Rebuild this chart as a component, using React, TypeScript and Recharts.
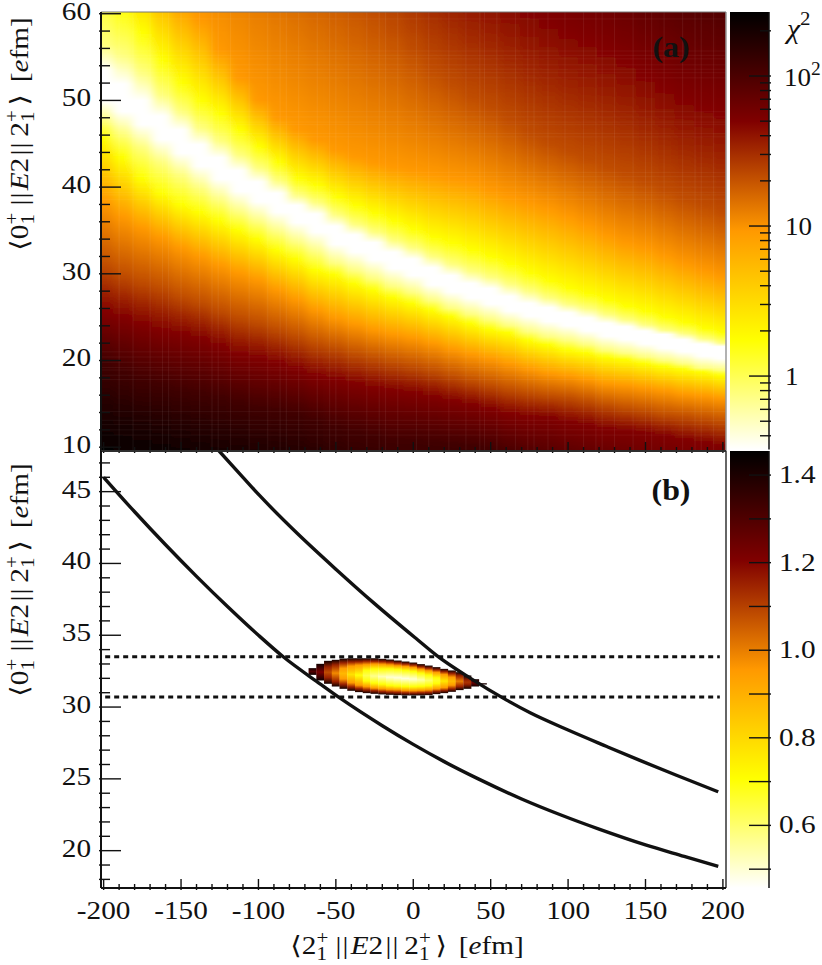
import React from "react";
import { ComposedChart, BarChart, Bar, Line, XAxis, YAxis, ReferenceLine, Label } from "recharts";

const W = 822;
const H = 965;
const _ = null;

// x scan columns of the chi2 map (efm)
const mapX = [-200, -187.5, -175, -162.5, -150, -137.5, -125, -112.5, -100, -87.5, -75, -62.5, -50, -37.5, -25, -12.5, 0, 12.5, 25, 37.5, 50, 62.5, 75, 87.5, 100, 112.5, 125, 137.5, 150, 162.5, 175, 187.5, 200];

// where chi2 crosses a level in each column (y in efm)
const chi115Top = [_, _, _, _, _, _, _, _, _, _, _, _, _, _, _, _, _, _, _, _, _, _, _, 77.2, 75.4, 73.7, 72.0, 70.2, 68.7, 67.4, 66.2, 65.3, 64.6];
const chi50Top = [_, _, _, _, _, _, _, _, _, _, _, _, _, _, 78.3, 75.2, 72.2, 69.6, 67.3, 65.3, 63.7, 62.2, 60.7, 59.5, 58.3, 57.4, 56.2, 54.9, 53.2, 51.8, 50.5, 49.6, 48.9];
const chi22Top = [_, _, _, _, _, 90.4, 85.8, 81.8, 77.7, 74.3, 70.8, 67.9, 65.0, 62.5, 60.2, 58.1, 55.8, 53.5, 51.8, 50.3, 49.1, 47.6, 46.0, 44.9, 44.0, 43.1, 42.2, 41.4, 40.5, 39.6, 38.6, 37.8, 37.0];
const chi9Top = [_, _, 67.9, 64.5, 61.6, 59.3, 55.8, 52.6, 50.0, 48.0, 46.6, 45.4, 44.3, 43.5, 42.8, 42.3, 41.9, 41.5, 41.0, 40.6, 39.7, 38.9, 38.2, 37.5, 36.6, 35.6, 34.5, 33.6, 33.0, 32.1, 31.2, 30.4, 29.7];
const chi17Top = [64.5, 61.0, 57.9, 54.7, 52.1, 50.0, 48.5, 46.6, 44.7, 42.9, 41.0, 40.2, 38.9, 37.9, 37.0, 36.1, 35.2, 34.2, 33.6, 32.8, 32.0, 31.1, 30.1, 29.2, 28.4, 27.7, 27.0, 26.3, 25.7, 25.0, 24.4, 23.7, 23.2];
const chi07Top = [56.4, 55.2, 53.2, 50.6, 48.7, 46.8, 45.3, 43.7, 42.2, 40.7, 39.1, 38.2, 36.8, 35.7, 34.8, 33.8, 33.0, 32.0, 31.1, 30.3, 29.6, 28.8, 28.0, 27.2, 26.5, 26.0, 25.3, 24.7, 24.1, 23.5, 23.1, 22.5, 22.0];
const chiMinTop = [53.5, 51.9, 50.0, 48.2, 46.6, 44.9, 43.4, 41.9, 40.6, 39.3, 37.9, 36.9, 35.5, 34.5, 33.6, 32.5, 31.7, 30.7, 29.8, 28.9, 28.3, 27.4, 26.6, 26.1, 25.5, 24.9, 24.3, 23.9, 23.4, 23.0, 22.4, 21.9, 21.6];
const chiMinBot = [50.0, 48.7, 47.2, 45.5, 43.9, 42.4, 40.9, 39.5, 38.3, 37.1, 35.9, 34.8, 33.4, 32.5, 31.6, 30.6, 29.8, 28.7, 27.9, 27.2, 26.5, 25.7, 25.1, 24.5, 24.0, 23.4, 22.8, 22.4, 21.9, 21.4, 21.0, 20.5, 20.2];
const chi07Bot = [47.7, 46.2, 44.6, 42.9, 41.4, 39.9, 38.5, 37.1, 36.0, 34.8, 33.6, 32.5, 31.2, 30.3, 29.4, 28.5, 27.8, 26.9, 26.0, 25.3, 24.7, 24.0, 23.3, 22.7, 22.3, 21.8, 21.2, 20.8, 20.4, 20.0, 19.6, 19.1, 18.9];
const chi17Bot = [45.7, 43.4, 41.0, 39.3, 38.0, 37.1, 36.1, 35.0, 34.0, 32.7, 31.7, 30.4, 29.9, 28.9, 28.1, 27.3, 26.6, 25.8, 25.1, 24.3, 23.6, 23.2, 22.3, 21.8, 21.2, 20.9, 20.4, 20.1, 19.7, 19.3, 19.0, 18.7, 18.3];
const chi9Bot = [38.3, 36.6, 35.3, 34.2, 33.0, 32.0, 31.0, 30.1, 29.3, 28.1, 27.0, 25.8, 24.9, 24.2, 23.5, 23.0, 22.6, 22.0, 21.3, 20.7, 20.2, 19.6, 19.0, 18.5, 18.2, 17.8, 17.3, 17.1, 16.8, 16.5, 16.1, 15.9, 15.6];
const chi22Bot = [31.0, 29.9, 29.1, 28.4, 27.4, 26.7, 25.8, 25.0, 24.4, 23.6, 22.8, 21.9, 21.4, 20.7, 20.2, 19.7, 19.3, 18.8, 18.2, 17.6, 17.1, 16.6, 16.2, 15.9, 15.7, 15.3, 14.8, 14.4, 14.1, 13.7, 13.5, 13.2, 12.9];
const chi50Bot = [25.5, 24.9, 24.1, 23.4, 23.0, 22.5, 21.7, 20.7, 20.3, 19.7, 19.0, 18.2, 17.8, 17.3, 16.8, 16.5, 16.2, 15.8, 15.3, 14.9, 14.4, 13.8, 13.5, 13.4, 12.9, 12.6, 12.1, 11.9, 11.6, 11.3, 10.8, 10.5, 10.1];
const chi115Bot = [19.7, 18.6, 17.7, 17.2, 16.6, 16.2, 15.7, 15.1, 14.5, 14.2, 13.8, 13.1, 12.3, 11.7, 11.2, 10.7, 10.7, 10.5, 10.3, 10.1, 9.7, 8.8, 8.0, 7.3, 6.6, 5.9, 5.1, 4.3, 3.3, 2.4, 1.4, 0.2, -0.9];
const chi267Bot = [8.8, 8.6, 8.2, 7.8, 7.4, 6.8, 6.2, 5.6, 5.1, 4.5, 3.9, 2.8, 1.6, 0.4, -0.7, -2.4, -2.4, -3.0, -3.6, -4.2, -5.3, _, _, _, _, _, _, _, _, _, _, _, _];

const mapContours: [number, (number | null)[]][] = [
  [115, chi115Top], [50, chi50Top], [21.5, chi22Top], [9.3, chi9Top], [1.74, chi17Top], [0.75, chi07Top], [0.324, chiMinTop],
  [0.324, chiMinBot], [0.75, chi07Bot], [1.74, chi17Bot], [9.3, chi9Bot], [21.5, chi22Bot], [50, chi50Bot], [115, chi115Bot], [267, chi267Bot],
];

// faint seams between the scan cells in panel (a)
const seamX = [-190, -181, -170, -162, -158, -150, -138, -130, -126, -118, -106, -94, -86, -82, -74, -62, -54, -50, -42, -30, -22, -18, -10, 2, 10, 23, 34, 43, 46, 54, 66, 74, 78, 87, 98, 110, 118, 122, 130, 142, 150, 154, 162, 174, 182, 186, 194];
const seamY = [59.4, 55.7, 55.2, 54.8, 54.1, 53.6, 53.2, 52.6, 48.7, 48.1, 47.5, 47.2, 46.2, 45.8, 41.7, 41.2, 40.6, 40.0, 39.4, 39.1, 38.6, 21.0, 20.4, 19.8, 19.2, 18.9, 18.3, 17.8, 14.1, 13.1, 12.6, 12.0, 11.4];

// panel (b): chi2 < limit island, per column
const blobX = [-65, -60, -55, -50, -45, -40, -35, -30, -25, -20, -15, -10, -5, 0, 5, 10, 15, 20, 25, 30, 35, 40, 45];
const blobEdgeTop = [32.71, 33.01, 33.22, 33.29, 33.38, 33.40, 33.40, 33.40, 33.40, 33.36, 33.31, 33.24, 33.17, 33.10, 32.99, 32.89, 32.78, 32.66, 32.55, 32.43, 32.20, 31.94, 31.66];
const blobEdgeBot = [32.24, 31.85, 31.62, 31.43, 31.27, 31.13, 31.04, 30.97, 30.92, 30.88, 30.85, 30.83, 30.81, 30.81, 30.81, 30.83, 30.90, 30.97, 31.06, 31.18, 31.27, 31.43, 31.57];
const blobMidY = [32.48, 32.43, 32.42, 32.36, 32.33, 32.27, 32.22, 32.19, 32.16, 32.12, 32.08, 32.04, 31.99, 31.95, 31.90, 31.86, 31.84, 31.81, 31.80, 31.80, 31.73, 31.69, 31.62];
const blobMidChi = [1.3, 1.22, 1.08, 0.98, 0.88, 0.78, 0.7, 0.63, 0.57, 0.53, 0.5, 0.49, 0.49, 0.5, 0.54, 0.6, 0.67, 0.76, 0.87, 1.0, 1.12, 1.25, 1.38];
const blobDarkTop = [_, _, 32.78, 32.94, 33.07, 33.13, 33.15, 33.19, 33.18, 33.16, 33.12, 33.06, 32.99, 32.92, 32.80, 32.70, 32.58, 32.46, 32.33, 32.17, 31.87, _, _];
const blobDarkBot = [_, _, 32.06, 31.78, 31.59, 31.41, 31.29, 31.19, 31.14, 31.08, 31.04, 31.02, 30.99, 30.98, 31.00, 31.02, 31.10, 31.16, 31.27, 31.43, 31.59, _, _];
const blobOrangeTop = [_, _, _, _, 32.70, 32.85, 32.92, 32.96, 33.00, 32.98, 32.94, 32.88, 32.83, 32.76, 32.64, 32.53, 32.42, 32.27, 32.08, _, _, _, _];
const blobOrangeBot = [_, _, _, _, 31.96, 31.69, 31.52, 31.42, 31.32, 31.26, 31.22, 31.20, 31.15, 31.14, 31.16, 31.19, 31.26, 31.35, 31.52, _, _, _, _];
const blobYellowTop = [_, _, _, _, _, _, _, 32.56, 32.65, 32.65, 32.66, 32.62, 32.55, 32.48, 32.36, 32.23, 32.03, _, _, _, _, _, _];
const blobYellowBot = [_, _, _, _, _, _, _, 31.82, 31.67, 31.59, 31.50, 31.46, 31.43, 31.42, 31.44, 31.49, 31.65, _, _, _, _, _, _];

// chi2 = 1 bands and the dotted limits in panel (b)
const lowerX = [-200, -180, -160, -140, -120, -100, -84, -60, -47, -20, 0, 20, 42, 70, 95, 120, 150, 175, 197];
const lowerY = [46.0, 43.6, 41.3, 39.1, 37.0, 35.0, 33.5, 31.6, 30.6, 28.7, 27.4, 26.2, 25.0, 23.6, 22.5, 21.5, 20.4, 19.6, 18.9];
const upperX = [-126, -110, -99, -75, -50, -25, 2.6, 15, 37, 60, 75.5, 100, 125, 146, 170, 197];
const upperY = [47.9, 46.0, 44.7, 42.1, 39.6, 37.2, 34.7, 33.6, 32.0, 30.5, 29.6, 28.4, 27.25, 26.3, 25.25, 24.1];
const dottedX = [-199, 198];
const dottedHigh = [33.5, 33.5];
const dottedLow = [30.7, 30.7];

// ticks
const xTicks = [-200, -190, -180, -170, -160, -150, -140, -130, -120, -110, -100, -90, -80, -70, -60, -50, -40, -30, -20, -10, 0, 10, 20, 30, 40, 50, 60, 70, 80, 90, 100, 110, 120, 130, 140, 150, 160, 170, 180, 190, 200];
const aYTicks = [60, 58, 56, 54, 52, 50, 48, 46, 44, 42, 40, 38, 36, 34, 32, 30, 28, 26, 24, 22, 20, 18, 16, 14, 12, 10];
const bYTicks = [47, 46, 45, 44, 43, 42, 41, 40, 39, 38, 37, 36, 35, 34, 33, 32, 31, 30, 29, 28, 27, 26, 25, 24, 23, 22, 21, 20, 19, 18];
const chiBarTicks = [0.4, 0.5, 0.6, 0.7, 0.8, 0.9, 1, 2, 3, 4, 5, 6, 7, 8, 9, 10, 20, 30, 40, 50, 60, 70, 80, 90, 100, 200];
const fitBarTicks = [0.5, 0.6, 0.7, 0.8, 0.9, 1.0, 1.1, 1.2, 1.3, 1.4];

const xDomain: [number, number] = [-201.7, 202];
const aDomain: [number, number] = [9.56, 60.2];
const bDomain: [number, number] = [17.4, 47.83];
const chiDomain: [number, number] = [0.324, 267];
const fitDomain: [number, number] = [0.457, 1.455];

const ramp = [
  { t: 0, c: [255, 255, 255] },
  { t: 0.25, c: [255, 255, 0] },
  { t: 0.5, c: [255, 153, 0] },
  { t: 0.75, c: [128, 0, 0] },
  { t: 1, c: [0, 0, 0] },
];

function rampColor(t: number) {
  const v = Math.min(1, Math.max(0, t));
  for (let i = 1; i < ramp.length; i++) {
    if (v <= ramp[i].t) {
      const a = ramp[i - 1];
      const b = ramp[i];
      const f = (v - a.t) / (b.t - a.t);
      const rgb = a.c.map((x, k) => Math.round(x + (b.c[k] - x) * f));
      return `rgb(${rgb.join(",")})`;
    }
  }
  return "rgb(0,0,0)";
}

const chiColor = (c: number) =>
  rampColor((Math.log10(c) - Math.log10(chiDomain[0])) / (Math.log10(chiDomain[1]) - Math.log10(chiDomain[0])));
const fitColor = (c: number) => rampColor((c - fitDomain[0]) / (fitDomain[1] - fitDomain[0]));

const FONT = "'Liberation Serif', 'DejaVu Serif', serif";

// the reference type is wider than Times, so text gets a small horizontal stretch
function TeX({ x, y, rotate = 0, size = 25, sx = 1.17, anchor = "middle", weight, children }: any) {
  return (
    <g transform={`translate(${x} ${y}) rotate(${rotate}) scale(${sx} 1)`}>
      <text fontFamily={FONT} fontSize={size} fontWeight={weight} textAnchor={anchor} fill="#111">
        {children}
      </text>
    </g>
  );
}

function Level({ base }: { base: string }) {
  return (
    <>
      <tspan>{base}</tspan>
      <tspan fontSize={18} dy={-10}>+</tspan>
      <tspan fontSize={18} dx={-10} dy={16}>1</tspan>
      <tspan dx={3} dy={-6}>{"\u200a"}</tspan>
    </>
  );
}

function Norm() {
  return (
    <>
      <tspan dx={2}>|</tspan>
      <tspan dx={1}>|</tspan>
    </>
  );
}

function Element({ left, right }: { left: string; right: string }) {
  return (
    <>
      <tspan>⟨</tspan>
      <Level base={left} />
      <Norm />
      <tspan dx={2} fontStyle="italic">E</tspan>
      <tspan>2</tspan>
      <Norm />
      <tspan dx={3}>{"\u200a"}</tspan>
      <Level base={right} />
      <tspan>⟩</tspan>
      <tspan dx={10}>[</tspan>
      <tspan fontStyle="italic">e</tspan>
      <tspan>fm]</tspan>
    </>
  );
}

const xTick = (labels: boolean) => (p: any) => {
  const v = p.payload.value;
  const major = v % 50 === 0;
  return (
    <g>
      <line x1={p.x} x2={p.x} y1={p.y} y2={p.y - (major ? 11 : 6)} stroke="#111" strokeWidth={1.4} />
      {labels && major ? <TeX x={p.x} y={p.y + 29}>{String(v)}</TeX> : null}
    </g>
  );
};

const yTick = (step: number) => (p: any) => {
  const v = p.payload.value;
  const major = v % step === 0;
  return (
    <g>
      <line x1={p.x} x2={p.x + (major ? 22 : 11)} y1={p.y} y2={p.y} stroke="#111" strokeWidth={1.4} />
      {major ? <TeX x={p.x - 8} y={p.y + 6} anchor="end">{String(v)}</TeX> : null}
    </g>
  );
};

const chiBarTick = (p: any) => {
  const v = p.payload.value;
  const major = v === 1 || v === 10 || v === 100;
  return (
    <g>
      <line x1={p.x} x2={p.x - (major ? 22 : 11)} y1={p.y} y2={p.y} stroke="#111" strokeWidth={1.4} />
      {v === 100 ? (
        <TeX x={p.x + 13} y={p.y + 10} anchor="start" sx={1.08}>
          <tspan>10</tspan>
          <tspan fontSize={18} dy={-11}>2</tspan>
        </TeX>
      ) : major ? (
        <TeX x={p.x + 14} y={p.y + 9} anchor="start" sx={1.08}>{String(v)}</TeX>
      ) : null}
    </g>
  );
};

const fitBarTick = (p: any) => {
  const v = p.payload.value;
  const label = Math.round(v * 10) % 2 === 0;
  return (
    <g>
      <line x1={p.x} x2={p.x - 22} y1={p.y} y2={p.y} stroke="#111" strokeWidth={1.4} />
      {label ? <TeX x={p.x + 8} y={p.y + 8} anchor="start">{v.toFixed(1)}</TeX> : null}
    </g>
  );
};

const layer: React.CSSProperties = { position: "absolute", left: 0, top: 0 };

const mapRows = mapX.map((x) => ({ x, span: aDomain }));
const blobRows = blobX.map((x, i) => ({ x, span: [blobEdgeBot[i], blobEdgeTop[i]] }));
const series = (xs: number[], ys: number[]) => xs.map((x, i) => ({ x, y: ys[i] }));

// gradient runs over a y range wider than the panel so off-panel contours still count
const gradTop = 100;
const gradBot = -10;

function MapGradient({ i }: { i: number }) {
  const span = aDomain[1] - aDomain[0];
  const stops = mapContours
    .filter(([, row]) => row[i] !== null)
    .map(([level, row]) => ({ level, v: row[i] as number }));
  return (
    <linearGradient
      id={`map-${i}`}
      x1="0"
      x2="0"
      y1={(aDomain[1] - gradTop) / span}
      y2={(aDomain[1] - gradBot) / span}
    >
      {stops.map((s, k) => (
        <stop key={k} offset={(gradTop - s.v) / (gradTop - gradBot)} stopColor={chiColor(s.level)} />
      ))}
    </linearGradient>
  );
}

function BlobGradient({ i }: { i: number }) {
  const top = blobEdgeTop[i];
  const bot = blobEdgeBot[i];
  const raw: [number, number | null][] = [
    [1.42, top],
    [1.15, blobDarkTop[i]],
    [0.95, blobOrangeTop[i]],
    [0.7, blobYellowTop[i]],
    [blobMidChi[i], blobMidY[i]],
    [0.7, blobYellowBot[i]],
    [0.95, blobOrangeBot[i]],
    [1.15, blobDarkBot[i]],
    [1.42, bot],
  ];
  const stops = raw.filter(([, v]) => v !== null) as [number, number][];
  return (
    <linearGradient id={`blob-${i}`} x1="0" x2="0" y1="0" y2="1">
      {stops.map(([c, v], k) => (
        <stop key={k} offset={(top - v) / (top - bot)} stopColor={fitColor(c)} />
      ))}
    </linearGradient>
  );
}

function BarRamp({ id }: { id: string }) {
  return (
    <linearGradient id={id} x1="0" x2="0" y1="1" y2="0">
      {ramp.map((s) => (
        <stop key={s.t} offset={s.t} stopColor={`rgb(${s.c.join(",")})`} />
      ))}
    </linearGradient>
  );
}

// a column as wide as the scan step, centred where the x scale puts the bar;
// end columns run past the frame so the soft filter has no fading edge
const column = (prefix: string, w: number, last: number) => (p: any) => {
  const left = p.index === 0 && last > 0 ? 30 : 0;
  const right = p.index === last && last > 0 ? 30 : 0;
  return (
    <rect
      x={p.x + p.width / 2 - w / 2 - left}
      y={p.y}
      width={w + left + right}
      height={p.height}
      fill={`url(#${prefix}-${p.index})`}
    />
  );
};

export default function App() {
  return (
    <div style={{ position: "absolute", left: 0, top: 0, width: W, height: H, background: "#fff", overflow: "hidden" }}>
      <style>{`.map-layer .recharts-bar-rectangles { filter: url(#soften); }`}</style>

      {/* panel (a) */}
      <div style={layer} className="map-layer">
        <ComposedChart width={W} height={H} data={mapRows} margin={{ top: 12, left: 41, right: 96, bottom: 513 }}>
          <defs>
            <filter id="soften" x="-10%" y="0" width="120%" height="100%">
              <feGaussianBlur stdDeviation="5 0" />
            </filter>
            {mapX.map((_x, i) => (
              <MapGradient key={i} i={i} />
            ))}
          </defs>
          <XAxis dataKey="x" type="number" domain={xDomain} allowDataOverflow ticks={xTicks} interval={0} height={1} tickSize={0} tickLine={false} axisLine={{ stroke: "#222", strokeWidth: 2 }} tick={xTick(false)} />
          <YAxis type="number" domain={aDomain} allowDataOverflow ticks={aYTicks} interval={0} width={60} tickSize={0} tickLine={false} axisLine={{ stroke: "#111", strokeWidth: 2 }} tick={yTick(10)}>
            <Label content={() => (
              <TeX x={28} y={134} rotate={-90}><Element left="0" right="2" /></TeX>
            )} />
            <Label content={() => (
              <TeX x={671} y={57} size={29} sx={1.1} weight="bold">(a)</TeX>
            )} />
          </YAxis>
          <Bar dataKey="span" barSize={18} shape={column("map", 20, mapX.length - 1)} isAnimationActive={false} />
          {seamX.map((x) => (
            <ReferenceLine key={x} x={x} stroke="#fff" strokeOpacity={0.07} strokeWidth={1} />
          ))}
          {seamY.map((y) => (
            <ReferenceLine key={y} y={y} stroke="#fff" strokeOpacity={0.05} strokeWidth={1} />
          ))}
          <ReferenceLine x={xDomain[1]} stroke="#999" strokeWidth={1.5} />
          <ReferenceLine y={aDomain[1]} stroke="#777" strokeWidth={1} />
        </ComposedChart>
      </div>

      {/* panel (b) */}
      <div style={layer}>
        <ComposedChart width={W} height={H} data={blobRows} margin={{ top: 451, left: 41, right: 96, bottom: 76 }}>
          <defs>
            {blobX.map((_x, i) => (
              <BlobGradient key={i} i={i} />
            ))}
          </defs>
          <XAxis dataKey="x" type="number" domain={xDomain} allowDataOverflow ticks={xTicks} interval={0} height={1} tickSize={0} tickLine={false} axisLine={{ stroke: "#111", strokeWidth: 2 }} tick={xTick(true)}>
            <Label content={() => (
              <TeX x={407} y={954}><Element left="2" right="2" /></TeX>
            )} />
          </XAxis>
          <YAxis type="number" domain={bDomain} allowDataOverflow ticks={bYTicks} interval={0} width={60} tickSize={0} tickLine={false} axisLine={{ stroke: "#111", strokeWidth: 2 }} tick={yTick(5)}>
            <Label content={() => (
              <TeX x={28} y={580} rotate={-90}><Element left="0" right="2" /></TeX>
            )} />
            <Label content={() => (
              <TeX x={671} y={500} size={29} sx={1.1} weight="bold">(b)</TeX>
            )} />
          </YAxis>
          <Bar dataKey="span" barSize={6} shape={column("blob", 8, 0)} isAnimationActive={false} />
          <Line data={series(lowerX, lowerY)} dataKey="y" type="monotone" dot={false} stroke="#111" strokeWidth={3.4} isAnimationActive={false} />
          <Line data={series(upperX, upperY)} dataKey="y" type="monotone" dot={false} stroke="#111" strokeWidth={3.4} isAnimationActive={false} />
          <Line data={series(dottedX, dottedHigh)} dataKey="y" dot={false} stroke="#111" strokeWidth={3} strokeDasharray="5 4" isAnimationActive={false} />
          <Line data={series(dottedX, dottedLow)} dataKey="y" dot={false} stroke="#111" strokeWidth={3} strokeDasharray="5 4" isAnimationActive={false} />
          <ReferenceLine x={xDomain[1]} stroke="#333" strokeWidth={1.5} />
          <ReferenceLine y={bDomain[1]} stroke="#333" strokeWidth={1.5} />
        </ComposedChart>
      </div>

      {/* colour bar (a) */}
      <div style={layer}>
        <BarChart width={W} height={H} data={[{ name: "chi", span: chiDomain }]} barCategoryGap={0} margin={{ top: 12, left: 730, right: 0, bottom: 515.5 }}>
          <defs>
            <BarRamp id="chi-ramp" />
          </defs>
          <XAxis dataKey="name" hide />
          <YAxis orientation="right" scale="log" type="number" domain={chiDomain} allowDataOverflow ticks={chiBarTicks} interval={0} width={53} tickSize={0} tickLine={false} axisLine={{ stroke: "#111", strokeWidth: 1.5 }} tick={chiBarTick}>
            <Label content={() => (
              <TeX x={787} y={38} size={27} sx={1.1} anchor="start">
                <tspan fontStyle="italic">χ</tspan>
                <tspan fontSize={19} dy={-13}>2</tspan>
              </TeX>
            )} />
          </YAxis>
          <Bar dataKey="span" fill="url(#chi-ramp)" isAnimationActive={false} />
        </BarChart>
      </div>

      {/* colour bar (b) */}
      <div style={layer}>
        <BarChart width={W} height={H} data={[{ name: "fit", span: fitDomain }]} barCategoryGap={0} margin={{ top: 451, left: 730, right: 0, bottom: 77 }}>
          <defs>
            <BarRamp id="fit-ramp" />
          </defs>
          <XAxis dataKey="name" hide />
          <YAxis orientation="right" type="number" domain={fitDomain} allowDataOverflow ticks={fitBarTicks} interval={0} width={53} tickSize={0} tickLine={false} axisLine={{ stroke: "#111", strokeWidth: 1.5 }} tick={fitBarTick} />
          <Bar dataKey="span" fill="url(#fit-ramp)" isAnimationActive={false} />
        </BarChart>
      </div>
    </div>
  );
}
